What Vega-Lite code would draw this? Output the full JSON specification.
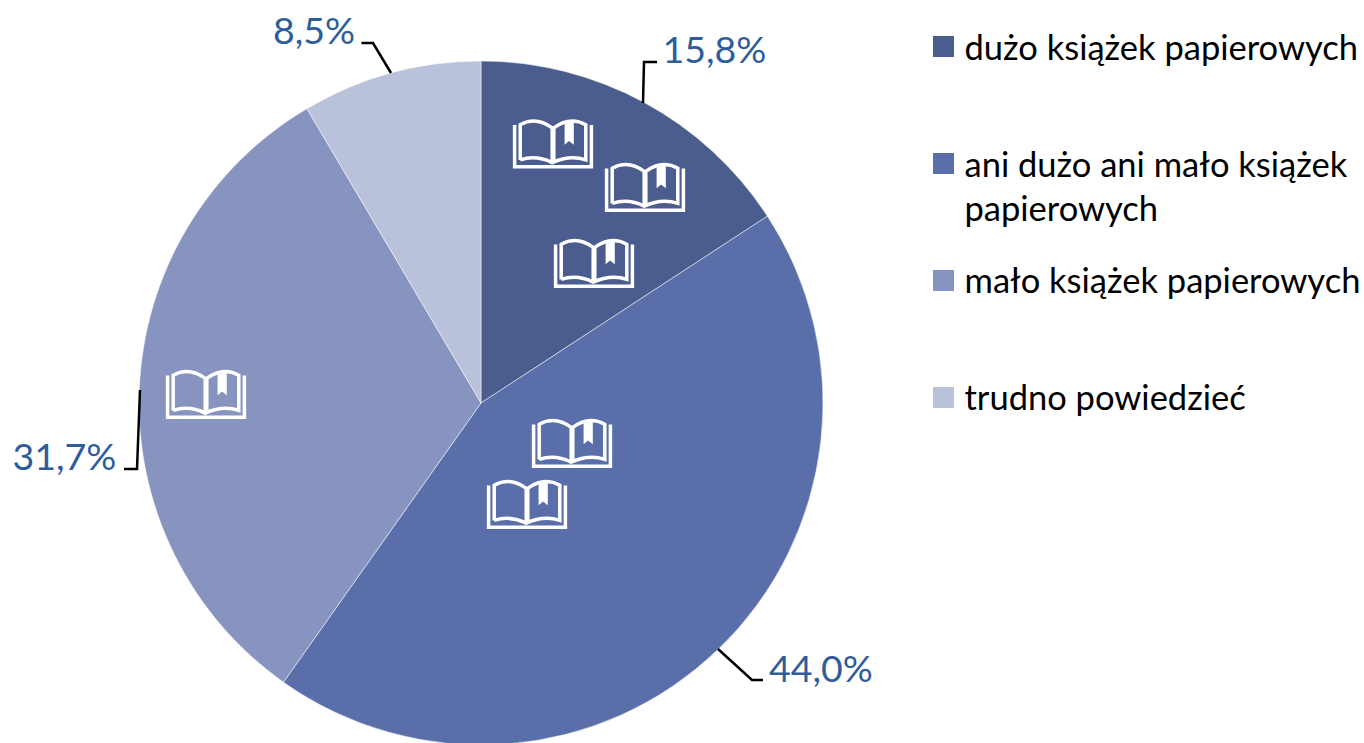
{
"$schema":"https://vega.github.io/schema/vega-lite/v6.json",
"width":1364,"height":743,"padding":0,"autosize":{"type":"none"},
"background":"white",
"config":{"view":{"stroke":null}},
"datasets":{
"shares":[
{"kategoria":"dużo książek papierowych","udzial":15.8,"kolejnosc":1},
{"kategoria":"ani dużo ani mało książek papierowych","udzial":44.0,"kolejnosc":2},
{"kategoria":"mało książek papierowych","udzial":31.7,"kolejnosc":3},
{"kategoria":"trudno powiedzieć","udzial":8.5,"kolejnosc":4}],
"labels":[
{"tekst":"15,8%","x":181.5,"y":340},
{"tekst":"44,0%","x":288,"y":-279},
{"tekst":"31,7%","x":-468.5,"y":-66.5},
{"tekst":"8,5%","x":-208,"y":359.5}],
"leaders":[
{"seria":"a","krok":1,"x":176,"y":341},{"seria":"a","krok":2,"x":163,"y":341},{"seria":"a","krok":3,"x":162,"y":300},
{"seria":"b","krok":1,"x":282,"y":-277},{"seria":"b","krok":2,"x":271,"y":-277},{"seria":"b","krok":3,"x":237,"y":-246},
{"seria":"c","krok":1,"x":-357,"y":-66},{"seria":"c","krok":2,"x":-344,"y":-66},{"seria":"c","krok":3,"x":-341,"y":13},
{"seria":"d","krok":1,"x":-119.5,"y":360},{"seria":"d","krok":2,"x":-108,"y":360},{"seria":"d","krok":3,"x":-90,"y":330}],
"books":[
{"x":72,"y":259.5},{"x":164,"y":216},{"x":113,"y":140},{"x":91,"y":-40},{"x":46,"y":-101},{"x":-275,"y":9}],
"legendSymbols":[
{"kategoria":"dużo książek papierowych","x":462.5,"y":356.5},
{"kategoria":"ani dużo ani mało książek papierowych","x":462.5,"y":239.5},
{"kategoria":"mało książek papierowych","x":462.5,"y":122.5},
{"kategoria":"trudno powiedzieć","x":462.5,"y":5.5}],
"legendTexts":[
{"tekst":"dużo książek papierowych","x":483.5,"y":343.5},
{"tekst":"ani dużo ani mało książek","x":483.5,"y":226.5},
{"tekst":"papierowych","x":483.5,"y":182.5},
{"tekst":"mało książek papierowych","x":483.5,"y":110},
{"tekst":"trudno powiedzieć","x":483.5,"y":-7}]
},
"layer":[
{"data":{"name":"shares"},
 "mark":{"type":"arc","outerRadius":342,"stroke":"white","strokeWidth":0.5},
 "encoding":{
  "x":{"datum":0,"type":"quantitative","scale":{"domain":[-481,883]},"axis":null},
  "y":{"datum":0,"type":"quantitative","scale":{"domain":[-340,403]},"axis":null},
  "theta":{"field":"udzial","type":"quantitative","stack":true,"scale":{"domain":[0,100]}},
  "order":{"field":"kolejnosc","type":"quantitative"},
  "color":{"field":"kategoria","type":"nominal","legend":null,
   "scale":{"domain":["dużo książek papierowych","ani dużo ani mało książek papierowych","mało książek papierowych","trudno powiedzieć"],
            "range":["#4B5D8E","#5A6FA9","#8794C0","#BAC1DA"]}}
 }},
{"data":{"name":"leaders"},
 "mark":{"type":"line","stroke":"black","strokeWidth":2.5,"interpolate":"linear"},
 "encoding":{
  "x":{"field":"x","type":"quantitative","scale":{"domain":[-481,883]},"axis":null},
  "y":{"field":"y","type":"quantitative","scale":{"domain":[-340,403]},"axis":null},
  "detail":{"field":"seria"},
  "order":{"field":"krok","type":"quantitative"}
 }},
{"data":{"name":"labels"},
 "mark":{"type":"text","font":"Lato","fontSize":37.5,"align":"left","baseline":"alphabetic","color":"#2F5C9B"},
 "encoding":{
  "x":{"field":"x","type":"quantitative","scale":{"domain":[-481,883]},"axis":null},
  "y":{"field":"y","type":"quantitative","scale":{"domain":[-340,403]},"axis":null},
  "text":{"field":"tekst"}
 }},
{"data":{"name":"books"},
 "mark":{"type":"point","filled":false,"stroke":"white","strokeWidth":3.5,"size":6400,"opacity":1,
  "shape":"M-0.96,-0.46 L-0.96,0.58 L0.96,0.58 L0.96,-0.46 M-0.82,0.41 L-0.82,-0.47 Q-0.42,-0.69 -0.02,-0.39 L-0.02,0.48 M-0.82,0.41 Q-0.42,0.28 -0.02,0.48 Q0.42,0.28 0.82,0.41 L0.82,-0.47 Q0.42,-0.69 0.02,-0.39 L0.02,0.48"},
 "encoding":{
  "x":{"field":"x","type":"quantitative","scale":{"domain":[-481,883]},"axis":null},
  "y":{"field":"y","type":"quantitative","scale":{"domain":[-340,403]},"axis":null}
 }},
{"data":{"name":"books"},
 "mark":{"type":"point","filled":true,"fill":"white","strokeWidth":0,"size":6400,"opacity":1,
  "shape":"M0.29,-0.49 L0.52,-0.55 L0.52,0.03 L0.4,-0.06 L0.29,0.03 Z"},
 "encoding":{
  "x":{"field":"x","type":"quantitative","scale":{"domain":[-481,883]},"axis":null},
  "y":{"field":"y","type":"quantitative","scale":{"domain":[-340,403]},"axis":null}
 }},
{"data":{"name":"legendSymbols"},
 "mark":{"type":"point","shape":"square","filled":true,"size":441,"opacity":1,"strokeWidth":0},
 "encoding":{
  "x":{"field":"x","type":"quantitative","scale":{"domain":[-481,883]},"axis":null},
  "y":{"field":"y","type":"quantitative","scale":{"domain":[-340,403]},"axis":null},
  "color":{"field":"kategoria","type":"nominal","legend":null,
   "scale":{"domain":["dużo książek papierowych","ani dużo ani mało książek papierowych","mało książek papierowych","trudno powiedzieć"],
            "range":["#4B5D8E","#5A6FA9","#8794C0","#BAC1DA"]}}
 }},
{"data":{"name":"legendTexts"},
 "mark":{"type":"text","font":"Lato","fontSize":34.5,"align":"left","baseline":"alphabetic","color":"black"},
 "encoding":{
  "x":{"field":"x","type":"quantitative","scale":{"domain":[-481,883]},"axis":null},
  "y":{"field":"y","type":"quantitative","scale":{"domain":[-340,403]},"axis":null},
  "text":{"field":"tekst"}
 }}
]
}
